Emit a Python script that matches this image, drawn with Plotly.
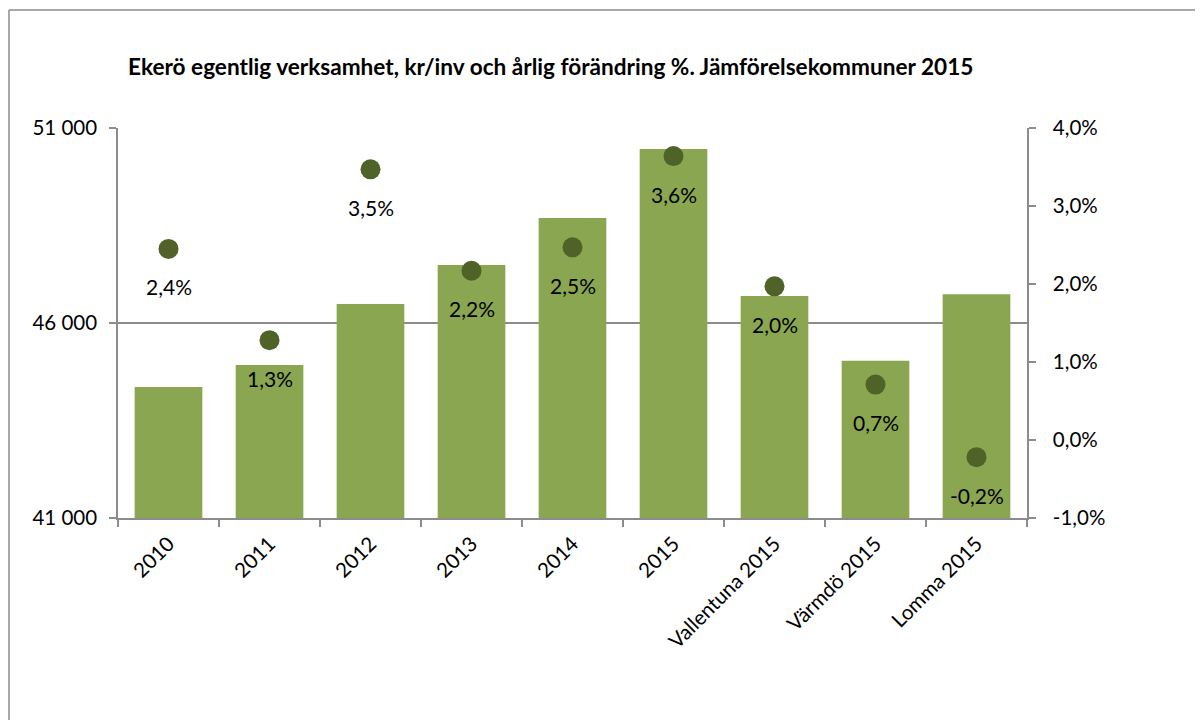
import plotly.graph_objects as go

categories = ["2010", "2011", "2012", "2013", "2014", "2015",
              "Vallentuna 2015", "Värmdö 2015", "Lomma 2015"]
kr_per_inv = [44360, 44920, 46490, 47490, 48690, 50460, 46690, 45030, 46740]
change_pct = [0.024, 0.013, 0.035, 0.022, 0.025, 0.036, 0.020, 0.007, -0.002]
change_pos = [0.0245, 0.0128, 0.0347, 0.0217, 0.0247, 0.0364, 0.0197, 0.0071, -0.0022]
pct_ticks = [-0.01, 0.0, 0.01, 0.02, 0.03, 0.04]
pct_tick_labels = ["-1,0%", "0,0%", "1,0%", "2,0%", "3,0%", "4,0%"]

W, H = 1203, 720
OFF = 8  # default page body margin
L, R, T, B = 118, 1027, 128, 518  # target plot area on screen
FONT = "Lato"
BAR = "#8AA650"
DOT = "#4F6228"
AX = "#8C8C8C"
TICK = 20.5

fig = go.Figure()
fig.add_trace(go.Bar(x=categories, y=kr_per_inv, marker=dict(color=BAR, line=dict(width=0)),
                     yaxis="y", showlegend=False))
fig.add_trace(go.Scatter(x=categories, y=change_pos, mode="markers", yaxis="y2",
                         marker=dict(color=DOT, size=20), showlegend=False))

annotations = []
for i, (v, p) in enumerate(zip(change_pct, change_pos)):
    annotations.append(dict(x=i, y=p, xref="x", yref="y2",
                            text=f"{v*100:.1f}".replace(".", ",") + "%",
                            showarrow=False, yshift=-38,
                            font=dict(family=FONT, size=21, color="#000000")))

sx = lambda xp: (xp - L) / (R - L)
sy = lambda yp: (B - yp) / (B - T)
annotations.append(dict(x=sx(126), y=sy(67), xref="paper", yref="paper",
                        xanchor="left", yanchor="middle", showarrow=False,
                        text="<b>Ekerö egentlig verksamhet, kr/inv och årlig förändring %. Jämförelsekommuner 2015</b>",
                        font=dict(family=FONT, size=22.6, color="#000000")))

shapes = [
    dict(type="line", xref="paper", yref="paper", x0=sx(9), x1=sx(9), y0=sy(740), y1=sy(10),
         line=dict(color="#8C8C8C", width=1.5)),
    dict(type="line", xref="paper", yref="paper", x0=sx(9), x1=sx(1230), y0=sy(10), y1=sy(10),
         line=dict(color="#8C8C8C", width=1.5)),
]

fig.update_layout(
    width=W, height=H,
    margin=dict(l=L - OFF, r=W - (R - OFF), t=T - OFF, b=H - (B - OFF), autoexpand=False),
    paper_bgcolor="white", plot_bgcolor="white",
    separators=", ",
    bargap=0.33,
    font=dict(family=FONT, size=TICK, color="#000000"),
    xaxis=dict(type="category", range=[-0.5, len(categories) - 0.5], showline=True,
               linecolor=AX, linewidth=1.5,
               ticks="outside", tickson="boundaries", ticklen=7, tickcolor=AX, tickwidth=1.5,
               tickangle=-45, tickfont=dict(family=FONT, size=TICK), ticklabelstandoff=4,
               showgrid=False),
    yaxis=dict(range=[41000, 51000], tick0=41000, dtick=5000, tickformat=",d", showline=True,
               linecolor=AX, linewidth=1.5, ticks="outside", ticklen=7, tickcolor=AX, tickwidth=1.5,
               showgrid=True, gridcolor=AX, gridwidth=1.5, zeroline=False,
               ticklabelstandoff=8, tickfont=dict(family=FONT, size=TICK)),
    yaxis2=dict(range=[-0.01, 0.04], tickmode="array", tickvals=pct_ticks, ticktext=pct_tick_labels,
                overlaying="y", side="right", showline=True, linecolor=AX, linewidth=1.5,
                ticks="outside", ticklen=7, tickcolor=AX, tickwidth=1.5, showgrid=False,
                zeroline=False, ticklabelstandoff=13, tickfont=dict(family=FONT, size=TICK)),
    annotations=annotations,
    shapes=shapes,
)
fig.write_html("out.html")
